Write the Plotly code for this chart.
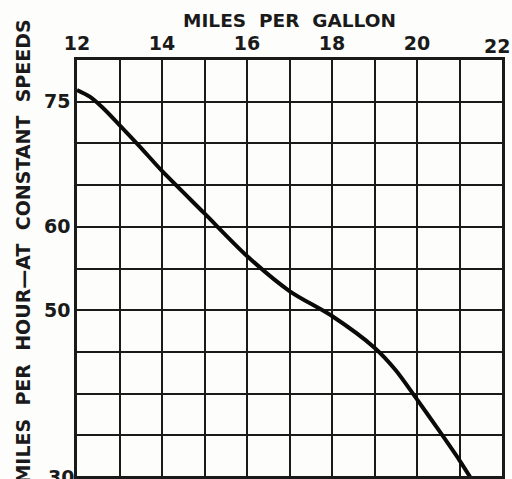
import plotly.graph_objects as go

# Fuel economy vs. constant cruising speed
mpg = [12.0, 12.3, 12.6, 13.0, 13.5, 14.0, 15.0, 16.0, 17.0, 18.0, 19.0, 19.5, 20.0, 20.5, 21.0, 21.25]
mph = [76.4, 75.6, 74.3, 72.2, 69.5, 66.7, 61.6, 56.5, 52.3, 49.3, 45.5, 42.8, 39.3, 35.7, 32.0, 30.0]

x_ticks = [12, 14, 16, 18, 20, 22]
y_ticks = [30, 50, 60, 75]

x_range = [12, 22]
y_range = [30.12, 80]

FONT = "DejaVu Sans"
INK = "#1a1a1a"
SP = "\u00a0 "  # widened word gap

fig = go.Figure()
fig.add_trace(go.Scatter(
    x=mpg, y=mph, mode="lines",
    line=dict(color="#0a0a0a", width=4, shape="spline", smoothing=0.8),
    hoverinfo="skip", showlegend=False, cliponaxis=True,
))

fig.update_layout(
    width=512, height=479,
    margin=dict(l=77, r=10, t=60, b=0),
    paper_bgcolor="#fdfdfb", plot_bgcolor="#fdfdfb",
    font=dict(family=FONT, size=19, color=INK, weight="bold"),
    xaxis=dict(
        side="top", range=x_range, tickvals=x_ticks[:-1], ticks="",
        showgrid=True, gridcolor=INK, gridwidth=2,
        minor=dict(dtick=1, tick0=12, showgrid=True, gridcolor=INK, gridwidth=2),
        showline=True, linecolor=INK, linewidth=2.5, mirror=True,
        zeroline=False, ticklabelstandoff=0,
        title=dict(text=SP.join(["MILES", "PER", "GALLON"]), font=dict(size=18.5), standoff=0),
    ),
    yaxis=dict(
        range=y_range, tickvals=y_ticks, ticks="",
        showgrid=True, gridcolor=INK, gridwidth=2,
        minor=dict(dtick=5, tick0=30, showgrid=True, gridcolor=INK, gridwidth=2),
        showline=True, linecolor=INK, linewidth=2.5, mirror=True,
        zeroline=False, ticklabelstandoff=0,
    ),
)

# last mileage label at the right edge, nudged inward
fig.add_annotation(
    x=x_ticks[-1], y=1, xref="x", yref="paper", text=str(x_ticks[-1]),
    showarrow=False, xanchor="center", yanchor="bottom", xshift=-5, yshift=1,
    font=dict(size=19, color=INK),
)

# lowest speed label sits at the clipped bottom edge
y30 = (y_ticks[0] - y_range[0]) / (y_range[1] - y_range[0])
fig.add_annotation(
    x=0, y=y30, xref="paper", yref="paper", text=str(y_ticks[0]),
    showarrow=False, xanchor="right", yanchor="middle", xshift=-1,
    font=dict(size=19, color=INK),
)

# vertical axis title
fig.add_annotation(
    x=-0.126, y=0.5406, xref="paper", yref="paper",
    text=SP.join(["MILES", "PER", "HOUR\u2014AT", "CONSTANT", "SPEEDS"]),
    textangle=-90, showarrow=False, xanchor="center", yanchor="middle",
    font=dict(size=19, color=INK),
)

fig.write_html("out.html")
